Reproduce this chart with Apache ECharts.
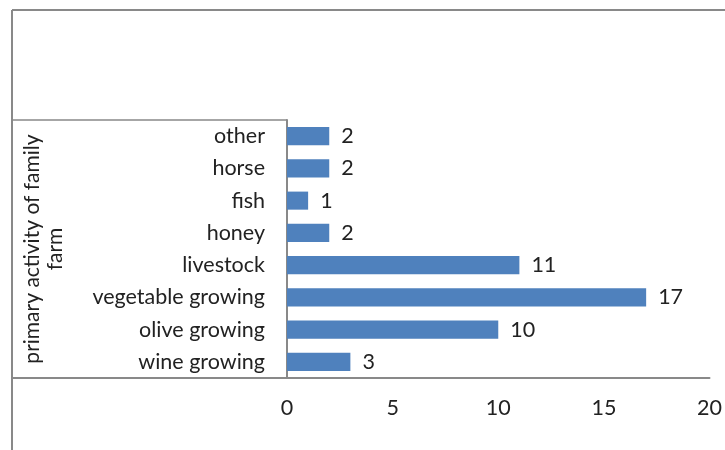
<!DOCTYPE html>
<html><head><meta charset="utf-8">
<script src="https://cdn.jsdelivr.net/npm/echarts@6/dist/echarts.min.js"></script>
<style>html,body{margin:0;padding:0;background:#fff}#c{width:725px;height:450px}</style>
</head><body><div id="c"></div>
<script>
const categories = ['wine growing','olive growing','vegetable growing','livestock','honey','fish','horse','other'];
const values = [3, 10, 17, 11, 2, 1, 2, 2];
const xTicks = [0, 5, 10, 15, 20];
const yAxisTitle = 'primary activity of family\nfarm';

const FONT = 'Lato';
const TXT = '#222222';
const LINE = '#898989';
const FS = 21.5;
const chart = echarts.init(document.getElementById('c'));
chart.setOption({
  animation: false,
  textStyle: { fontFamily: FONT },
  grid: { left: 287, right: 15, top: 120, bottom: 72, containLabel: false },
  xAxis: {
    type: 'value', min: xTicks[0], max: xTicks[xTicks.length - 1], interval: xTicks[1] - xTicks[0],
    splitLine: { show: false },
    axisLine: { show: true, lineStyle: { color: LINE, width: 2 } },
    axisTick: { show: false },
    axisLabel: { color: TXT, fontSize: FS, fontFamily: FONT, margin: 19 }
  },
  yAxis: {
    type: 'category', data: categories,
    axisLine: { show: true, lineStyle: { color: LINE, width: 2 } },
    axisTick: { show: false },
    axisLabel: { color: TXT, fontSize: FS, fontFamily: FONT, margin: 22 },
    name: yAxisTitle, nameLocation: 'middle', nameRotate: 90, nameGap: 220,
    nameTextStyle: { color: TXT, fontSize: 21, fontFamily: FONT, lineHeight: 23, align: 'center' }
  },
  series: [{
    type: 'bar', data: values, barCategoryGap: '44%',
    itemStyle: { color: '#4F81BD' },
    label: { show: true, position: 'right', distance: 12, color: TXT, fontSize: FS, fontFamily: FONT }
  }],
  graphic: [
    { type: 'line', shape: { x1: 12, y1: 10, x2: 725, y2: 10 }, style: { stroke: LINE, lineWidth: 2 } },
    { type: 'line', shape: { x1: 12, y1: 10, x2: 12, y2: 450 }, style: { stroke: LINE, lineWidth: 2 } },
    { type: 'line', shape: { x1: 12, y1: 120, x2: 287, y2: 120 }, style: { stroke: LINE, lineWidth: 1.5 } },
    { type: 'line', shape: { x1: 12, y1: 378, x2: 287, y2: 378 }, style: { stroke: LINE, lineWidth: 2 } }
  ]
});
</script></body></html>
